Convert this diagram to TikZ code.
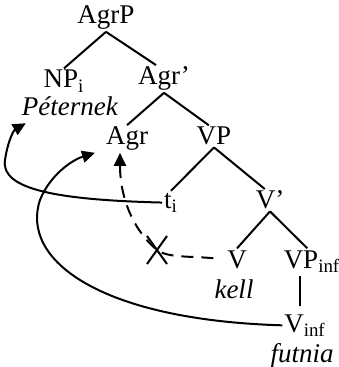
\documentclass[tikz,border=0pt]{standalone}
\usepackage{fontspec}
\setmainfont{Liberation Serif}[ItalicFont={Liberation Serif Italic}]
\usetikzlibrary{arrows.meta}
\usetikzlibrary{shapes.misc}

\begin{document}
\begin{tikzpicture}[x=.5pt,y=-.5pt,line width=1pt,every node/.style={anchor=base,inner
  sep=.5pt,font=\fontsize{13.5}{16}\selectfont}, move/.style={-{Triangle[length=6.5pt,width=6pt]}}]

  \useasboundingbox (0,0) rectangle (338,367);

  % tree
  \node (agrp) at (106,24) {AgrP};
  \node (np) at (64,88) {NP\textsubscript{i}};
  \node (agrb) at (164,85) {Agr’};
  \node (pet) at (70,116) {\textit{Péternek}};
  \node (agr) at (127,145) {Agr};
  \node (vp) at (214,145) {VP};
  \node (ti) at (171,208) {t\textsubscript{i}};
  \node (vb) at (270,209) {V’};
  \node (v) at (237,268) {V};
  \node (vpinf) at (312,268) {VP\textsubscript{inf}};
  \node (kell) at (234,298) {\textit{kell}};
  \node (vinf) at (305,332) {V\textsubscript{inf}};
  \node (fut) at (302,362) {\textit{futnia}};

  \draw (agrp.south) -- (np.north);
  \draw (agrp.south) -- (agrb.120);
  \draw (agrb.south) -- (agr.north);
  \draw (agrb.south) -- (vp.115);
  \draw (vp.south) -- (ti.north);
  \draw (vp.south) -- (vb.115);
  \draw (vb.south) -- (v.north);
  \draw (vb.south) -- (vpinf.110);
  \draw ([xshift=-6pt,yshift=-1pt]vpinf.south) -- ([xshift=-2.5pt,yshift=3pt]vinf.north);

  % movements
  \node[cross out,draw,minimum width=9pt,minimum height=13pt] (blk) at (157,250) {};
  \draw[move] (ti.west) .. controls (60,200) and (0,190) .. (5,160)
    .. controls (8,140) and (14,130) .. ([xshift=3pt,yshift=-2.5pt]pet.south west);
  \draw[move] (vinf.west) .. controls (100,320) and (20,260) .. (40,200)
    .. controls (50,175) and (72,160) .. ([xshift=-4.5pt]agr.south west);
  \draw[move,dash pattern=on 6pt off 4pt,shorten <=6pt] (v.west) .. controls (190,256) and
    (168,258) .. (blk.center) .. controls (135,232) and (120,200) .. ([xshift=-3.5pt]agr.south);

\end{tikzpicture}
\end{document}
